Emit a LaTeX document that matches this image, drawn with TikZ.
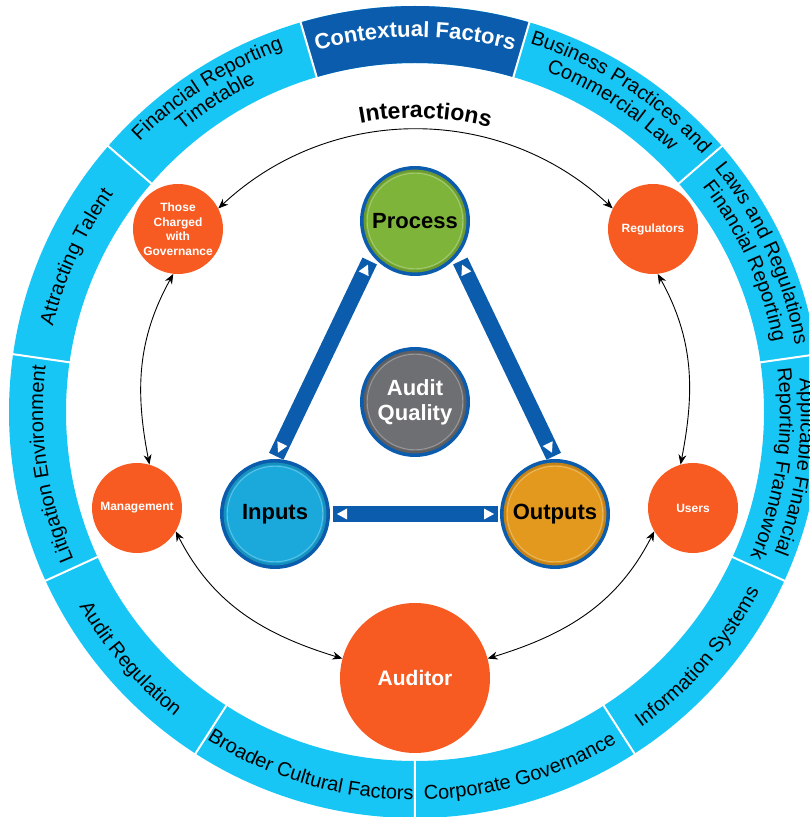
\documentclass[tikz,border=0pt]{standalone}
\usepackage{fontspec}
\setmainfont{Liberation Sans}
\usetikzlibrary{arrows.meta,decorations.text,decorations.markings,calc}
\definecolor{ringblue}{HTML}{17C6F5}
\definecolor{darkblue}{HTML}{0B5CAD}
\definecolor{orng}{HTML}{F75B22}
\definecolor{grn}{HTML}{7FB43A}
\definecolor{gry}{HTML}{6E6F72}
\definecolor{inblue}{HTML}{1BA9DC}
\definecolor{gold}{HTML}{E2991D}
\newcommand\ringup[3]{%
  \path[decorate,decoration={text along path,text align=center,
    text={|\fontsize{20}{24}\selectfont|#3}}]
    ({#1+40}:#2) arc[start angle={#1+40},end angle={#1-40},radius=#2];}
\newcommand\ringdn[3]{%
  \path[decorate,decoration={text along path,text align=center,
    text={|\fontsize{20}{24}\selectfont|#3}}]
    ({#1-40}:#2) arc[start angle={#1-40},end angle={#1+40},radius=#2];}
\newcommand\corerim[2]{%
  \draw[#2!85!black,line width=2.2pt] (#1.center) circle[radius=50.3];
  \draw[#2!70!white,line width=0.9pt] (#1.center) circle[radius=47.8];}
\tikzset{
  actor/.style={circle,fill=orng,text=white,inner sep=0pt,align=center,
    minimum size=90pt,font=\bfseries\fontsize{12}{14.5}\selectfont},
  core/.style={circle,draw=darkblue,line width=4pt,inner sep=0pt,
    minimum size=106pt,align=center,font=\bfseries\fontsize{22}{25}\selectfont},
  link/.style={{Stealth[length=10pt,width=8pt]}-{Stealth[length=10pt,width=8pt]},
    line width=0.9pt},
  bar/.style={draw=darkblue,line width=16pt,postaction={decorate,decoration={markings,
    mark=at position 4pt with {\fill[white] (0,0)--(10,5.5)--(10,-5.5)--cycle;},
    mark=at position -4pt with {\fill[white] (0,0)--(-10,5.5)--(-10,-5.5)--cycle;}}}},
}
\begin{document}
\begin{tikzpicture}[x=1pt,y=1pt]
\useasboundingbox (0,0) rectangle (809,817);
\clip (0,0) rectangle (809,817);
\begin{scope}[shift={(415,405)}]
  \fill[ringblue,even odd rule] (0,0) circle[radius=406] (0,0) circle[radius=349];
  \fill[darkblue] (73.64:406) arc[start angle=73.64,end angle=106.36,radius=406]
    -- (106.36:349) arc[start angle=106.36,end angle=73.64,radius=349] -- cycle;
  \foreach \k in {0,...,10}{\draw[white,line width=2pt] ({106.36+\k*32.7273}:348) -- ({106.36+\k*32.7273}:407);}
  \path[decorate,decoration={text along path,text align=center,text color=white,
    text={|\bfseries\fontsize{22}{26}\selectfont|Contextual Factors}}]
    (130:375) arc[start angle=130,end angle=50,radius=375];
  \ringup{122.73}{386}{Financial Reporting}
  \ringup{122.73}{365}{Timetable}
  \ringup{155.45}{372}{Attracting Talent}
  \ringup{188.18}{372}{Litigation Environment}
  \ringdn{220.91}{388}{Audit Regulation}
  \ringdn{253.64}{388}{Broader Cultural Factors}
  \ringdn{286.36}{388}{Corporate Governance}
  \ringdn{319.09}{388}{Information Systems}
  \ringup{-8.18}{386}{Applicable Financial}
  \ringup{-8.18}{365}{Reporting Framework}
  \ringup{24.55}{386}{Laws and Regulations}
  \ringup{24.55}{365}{Financial Reporting}
  \ringup{57.27}{386}{Business Practices and}
  \ringup{57.27}{365}{Commercial Law}
  \path[decorate,decoration={text along path,text align=center,
    text={|\bfseries\fontsize{23}{27}\selectfont|Interactions}}]
    (118:294) arc[start angle=118,end angle=58,radius=294];
\end{scope}
% core circles
\node[core,fill=grn] (pr) at (415,596) {Process};
\node[core,fill=gry,text=white] (aq) at (415,415) {Audit\\Quality};
\node[core,fill=inblue] (inp) at (275,303) {Inputs};
\node[core,fill=gold] (outp) at (555,303) {Outputs};
\corerim{pr}{grn}
\corerim{aq}{gry}
\corerim{inp}{inblue}
\corerim{outp}{gold}
% bars
\draw[bar] ($(inp.90)!3pt!(pr.219)$) -- ($(pr.219)!6pt!(inp.90)$);
\draw[bar] ($(outp.90)!3pt!(pr.321)$) -- ($(pr.321)!6pt!(outp.90)$);
\draw[bar] ($(inp.0)!3pt!(outp.180)$) -- ($(outp.180)!2pt!(inp.0)$);
% actors
\node[actor] (tc) at (178,588) {Those\\Charged\\with\\Governance};
\node[actor] (rg) at (653,588) {Regulators};
\node[actor] (mg) at (137,309) {Management};
\node[actor] (us) at (693,309) {Users};
\node[actor,minimum size=150pt,font=\bfseries\fontsize{21}{25}\selectfont] (au) at (415,139) {Auditor};
% interactions
\draw[link] (tc.27) to[out=43,in=137] (rg.153);
\draw[link] (tc.264) to[out=241,in=101] (mg.74);
\draw[link] (mg.329) to[out=297,in=163] (au.165);
\draw[link] (au.15) to[out=17,in=243] (us.211);
\draw[link] (rg.276) to[out=299,in=79] (us.106);
\end{tikzpicture}
\end{document}
